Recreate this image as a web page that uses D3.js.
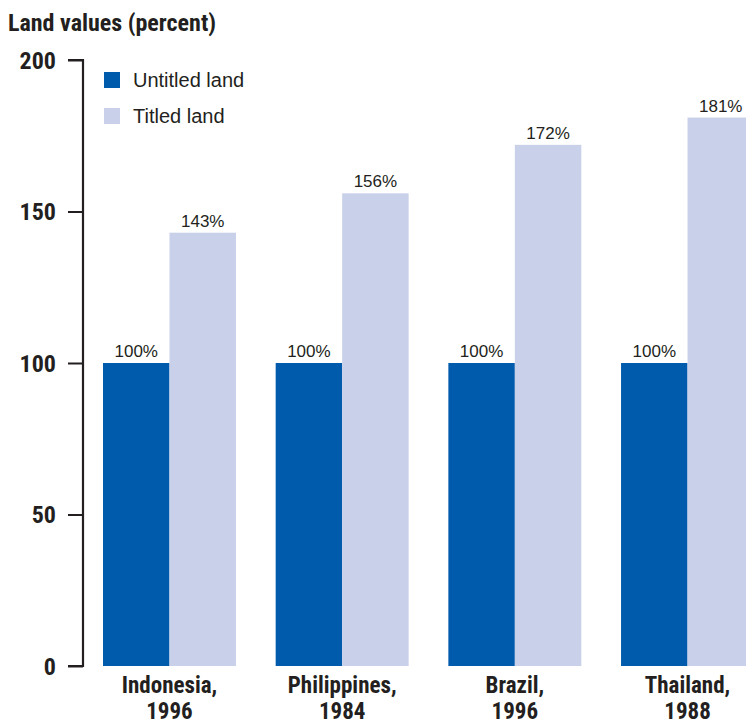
<!DOCTYPE html>
<html><head><meta charset="utf-8">
<script src="https://cdn.jsdelivr.net/npm/d3@7"></script>
<style>
html,body{margin:0;padding:0;background:#fff;}
svg{display:block;}
</style></head>
<body>
<script>
const categories = ["Indonesia,|1996", "Philippines,|1984", "Brazil,|1996", "Thailand,|1988"];
const series = ["Untitled land", "Titled land"];
const untitled = [100, 100, 100, 100];
const titled = [143, 156, 172, 181];
const yTicks = [0, 50, 100, 150, 200];
const colors = ["#005BAC", "#C9D0EA"];
const title = "Land values (percent)";

const W = 746, H = 725;
const cond = "'Liberation Sans Narrow','Arial Narrow','Roboto Condensed',sans-serif";
const svg = d3.select("body").append("svg").attr("width", W).attr("height", H);

const y = d3.scaleLinear().domain([0, 200]).range([666, 60]);
const x = d3.scaleBand().domain(categories).range([103, 754]).paddingInner(0.23).paddingOuter(0);
const xs = d3.scaleBand().domain(series).range([0, x.bandwidth()]);

svg.append("text").attr("x", 8).attr("y", 31).text(title)
  .attr("font-family", cond).attr("font-weight", "bold").attr("font-size", 24).attr("fill", "#231f20");

// axis
const ax = svg.append("g").attr("transform", "translate(83,0)");
ax.call(d3.axisLeft(y).tickValues(yTicks).tickSize(15).tickPadding(12).tickFormat(d3.format("d")));
ax.select(".domain").attr("d", `M-15,${y(200)}H0V${y(0)}H-15`).attr("stroke", "#231f20").attr("stroke-width", 2.2).attr("fill", "none");
ax.selectAll(".tick line").attr("stroke", "#231f20").attr("stroke-width", 2);
ax.selectAll(".tick text").attr("font-family", cond).attr("font-weight", "bold").attr("font-size", 24).attr("fill", "#231f20").attr("dy", "0.35em");

const data = categories.map((c, i) => ({c, vals: [untitled[i], titled[i]]}));
const g = svg.selectAll("g.grp").data(data).enter().append("g").attr("class", "grp")
  .attr("transform", d => `translate(${x(d.c)},0)`);
g.selectAll("rect").data(d => d.vals.map((v, j) => ({s: series[j], v, j}))).enter().append("rect")
  .attr("x", d => xs(d.s)).attr("width", xs.bandwidth())
  .attr("y", d => y(d.v)).attr("height", d => y(0) - y(d.v))
  .attr("fill", d => colors[d.j]);
g.selectAll("text.val").data(d => d.vals.map((v, j) => ({s: series[j], v, j}))).enter().append("text")
  .attr("class", "val")
  .attr("x", d => xs(d.s) + xs.bandwidth() / 2).attr("y", d => y(d.v) - 6)
  .attr("text-anchor", "middle").attr("font-family", "'Liberation Sans Narrow','Arial Narrow',sans-serif")
  .attr("font-size", 17).attr("fill", "#231f20").text(d => d.v + "%");

// category labels
const lab = svg.selectAll("text.cat").data(categories).enter().append("text").attr("class", "cat")
  .attr("x", d => x(d) + x.bandwidth() / 2).attr("y", 693)
  .attr("text-anchor", "middle").attr("font-family", cond).attr("font-weight", "bold")
  .attr("font-size", 23).attr("fill", "#231f20");
lab.each(function(d) {
  const parts = d.split("|");
  const t = d3.select(this);
  parts.forEach((p, i) => t.append("tspan").attr("x", x(d) + x.bandwidth() / 2).attr("dy", i ? 26 : 0).text(p));
});

// legend
const lg = svg.append("g").attr("transform", "translate(104,72)");
series.forEach((s, i) => {
  lg.append("rect").attr("x", 0).attr("y", i * 36).attr("width", 16).attr("height", 16).attr("fill", colors[i]);
  lg.append("text").attr("x", 29).attr("y", i * 36 + 15).text(s)
    .attr("font-family", "'Liberation Sans Narrow','Arial Narrow',sans-serif").attr("font-size", 20).attr("fill", "#231f20");
});
</script>
</body></html>
